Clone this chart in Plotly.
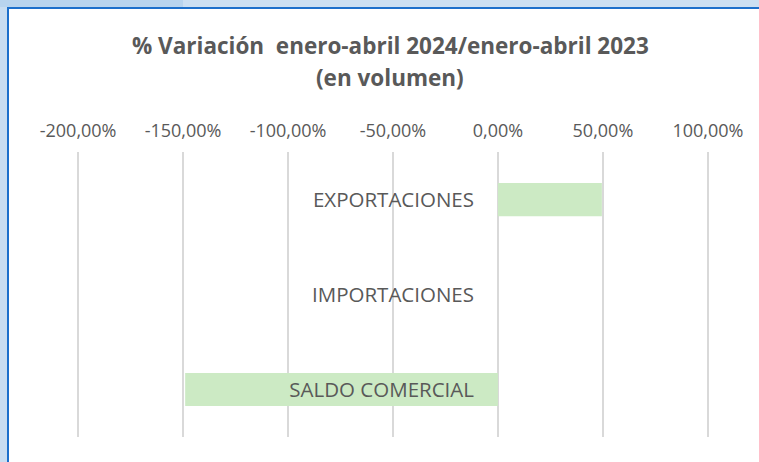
import plotly.graph_objects as go

categories = ["EXPORTACIONES", "IMPORTACIONES", "SALDO COMERCIAL"]
values = [0.495, 0.0, -1.49]
tick_vals = [-2.0, -1.5, -1.0, -0.5, 0.0, 0.5, 1.0]
tick_text = ["-200,00%", "-150,00%", "-100,00%", "-50,00%", "0,00%", "50,00%", "100,00%"]
title_line1 = "% Variación\u00a0 enero-abril 2024/enero-abril 2023"
title_line2 = "(en volumen)"

W, H = 759, 462
L, R, T, B = 76, 49, 152, 25
PW, PH = W - L - R, H - T - B

def px(x):
    return (x - L) / PW

def py(y):
    return (H - B - y) / PH

TXT = "#595959"

fig = go.Figure(go.Bar(
    x=values, y=categories, orientation="h",
    marker=dict(color="#cceac4", line=dict(width=0)),
    hoverinfo="skip",
))

shapes = [
    dict(type="rect", xref="paper", yref="paper", x0=px(0), x1=px(183), y0=py(0), y1=py(7),
         fillcolor="#b8d4ee", line=dict(width=0), layer="above"),
    dict(type="rect", xref="paper", yref="paper", x0=px(183), x1=px(W), y0=py(0), y1=py(7),
         fillcolor="#cbdff2", line=dict(width=0), layer="above"),
    dict(type="rect", xref="paper", yref="paper", x0=px(0), x1=px(7), y0=py(7), y1=py(H),
         fillcolor="#c8ddf1", line=dict(width=0), layer="above"),
    dict(type="rect", xref="paper", yref="paper", x0=px(7), x1=px(9), y0=py(7), y1=py(H),
         fillcolor="#1c6fcb", line=dict(width=0), layer="above"),
    dict(type="rect", xref="paper", yref="paper", x0=px(7), x1=px(W), y0=py(7), y1=py(9),
         fillcolor="#1c6fcb", line=dict(width=0), layer="above"),
]

annotations = [
    dict(text="<b>" + title_line1 + "</b>", xref="paper", yref="paper",
         x=px(390), y=py(46), xanchor="center", yanchor="middle", showarrow=False,
         font=dict(family="Open Sans", size=22.5, color=TXT)),
    dict(text="<b>" + title_line2 + "</b>", xref="paper", yref="paper",
         x=px(390), y=py(77), xanchor="center", yanchor="middle", showarrow=False,
         font=dict(family="Open Sans", size=22.5, color=TXT)),
]

pad = 0.01
fig.update_layout(
    width=W, height=H,
    margin=dict(l=L, r=R, t=T, b=B, pad=0),
    paper_bgcolor="white", plot_bgcolor="white",
    showlegend=False,
    bargap=0.65,
    shapes=shapes,
    annotations=annotations,
    xaxis=dict(
        side="top", range=[-2.0 - pad, 1.0 + pad], tickvals=tick_vals, ticktext=tick_text,
        showgrid=True, gridcolor="#d9d9d9", gridwidth=1.5,
        zeroline=True, zerolinecolor="#d9d9d9", zerolinewidth=1.5,
        showline=False, ticks="", ticklabelstandoff=10,
        tickfont=dict(family="Open Sans", size=18, color=TXT),
        fixedrange=True,
    ),
    yaxis=dict(
        anchor="free", position=px(498), autorange="reversed",
        showgrid=False, zeroline=False, showline=False, ticks="",
        ticklabelstandoff=24,
        tickfont=dict(family="Open Sans", size=20.5, color=TXT),
        fixedrange=True,
    ),
)

fig.write_html("out.html", config={"displayModeBar": False},
               post_script="document.body.style.margin='0';")
